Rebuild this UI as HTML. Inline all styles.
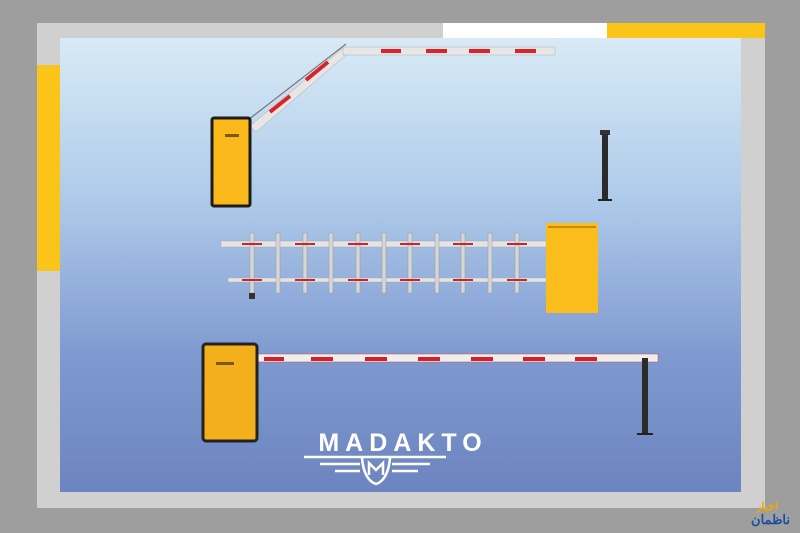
<!DOCTYPE html>
<html><head><meta charset="utf-8"><style>
body{margin:0;width:800px;height:533px;overflow:hidden;background:#9e9e9e}
svg{display:block}
</style></head><body>
<svg width="800" height="533" viewBox="0 0 800 533" xmlns="http://www.w3.org/2000/svg">
<defs>
<linearGradient id="bg" x1="0" y1="0" x2="0" y2="1">
<stop offset="0" stop-color="#d8eaf6"/>
<stop offset="0.35" stop-color="#afcbea"/>
<stop offset="0.7" stop-color="#7f9ad0"/>
<stop offset="1" stop-color="#6c84bf"/>
</linearGradient>
</defs>
<rect width="800" height="533" fill="#9e9e9e"/>
<rect x="37" y="23" width="728" height="485" fill="#d0d0d0"/>
<rect x="443" y="23" width="164" height="15" fill="#ffffff"/>
<rect x="607" y="23" width="158" height="15" fill="#fbc419"/>
<rect x="37" y="65" width="23" height="206" fill="#fbc419"/>
<rect x="60" y="38" width="681" height="454" fill="url(#bg)"/>

<g>
<line x1="248" y1="120" x2="346" y2="44" stroke="#777" stroke-width="1.2"/>
<polygon points="250,126 343,48 352,50 256,132" fill="#e6e6e6" stroke="#bbb" stroke-width="0.6"/>
<g stroke="#d9232a" stroke-width="4">
<line x1="270" y1="112" x2="290" y2="96"/>
<line x1="306" y1="80" x2="328" y2="62"/>
</g>
<rect x="343" y="47" width="212" height="8" fill="#e6e6e6" stroke="#bbb" stroke-width="0.6"/>
<g fill="#d9232a">
<rect x="381" y="49" width="20" height="4"/><rect x="426" y="49" width="21" height="4"/><rect x="469" y="49" width="21" height="4"/><rect x="515" y="49" width="21" height="4"/>
</g>
<rect x="212" y="118" width="38" height="88" rx="2" fill="#fbb81a" stroke="#1d1d1d" stroke-width="3"/>
<rect x="225" y="134" width="14" height="3" fill="#7a5a10"/>
</g>

<rect x="600" y="130" width="10" height="5" fill="#333"/>
<rect x="602" y="134" width="6" height="66" fill="#2a2a2a"/>
<rect x="598" y="199" width="14" height="2" fill="#222"/>

<g>
<rect x="221" y="241" width="325" height="6" fill="#e4e4e4" stroke="#aaa" stroke-width="0.5"/>
<rect x="228" y="278" width="318" height="4" fill="#e4e4e4" stroke="#aaa" stroke-width="0.5"/>
<g fill="#d6d6d6" stroke="#999" stroke-width="0.5">
<rect x="250" y="233" width="4" height="60"/><rect x="276" y="233" width="4" height="60"/><rect x="303" y="233" width="4" height="60"/><rect x="329" y="233" width="4" height="60"/><rect x="356" y="233" width="4" height="60"/><rect x="382" y="233" width="4" height="60"/><rect x="408" y="233" width="4" height="60"/><rect x="435" y="233" width="4" height="60"/><rect x="461" y="233" width="4" height="60"/><rect x="488" y="233" width="4" height="60"/><rect x="515" y="233" width="4" height="60"/>
</g>
<g stroke="#c8242b" stroke-width="2">
<line x1="242" y1="244" x2="262" y2="244"/><line x1="295" y1="244" x2="315" y2="244"/><line x1="348" y1="244" x2="368" y2="244"/><line x1="400" y1="244" x2="420" y2="244"/><line x1="453" y1="244" x2="473" y2="244"/><line x1="507" y1="244" x2="527" y2="244"/>
<line x1="242" y1="280" x2="262" y2="280"/><line x1="295" y1="280" x2="315" y2="280"/><line x1="348" y1="280" x2="368" y2="280"/><line x1="400" y1="280" x2="420" y2="280"/><line x1="453" y1="280" x2="473" y2="280"/><line x1="507" y1="280" x2="527" y2="280"/>
</g>
<rect x="249" y="293" width="6" height="6" fill="#333"/>
<rect x="546" y="223" width="52" height="90" fill="#fbbd1c"/>
<rect x="548" y="226" width="48" height="2" fill="#c98a10"/>
</g>

<g>
<rect x="258" y="354" width="400" height="8" fill="#eeeeee" stroke="#c44" stroke-width="0.5"/>
<g fill="#d3212a">
<rect x="264" y="357" width="20" height="4"/><rect x="311" y="357" width="22" height="4"/><rect x="365" y="357" width="22" height="4"/><rect x="418" y="357" width="22" height="4"/><rect x="471" y="357" width="22" height="4"/><rect x="523" y="357" width="22" height="4"/><rect x="575" y="357" width="22" height="4"/>
</g>
<rect x="642" y="358" width="6" height="76" fill="#2b2b2b"/>
<rect x="637" y="433" width="16" height="2" fill="#222"/>
<rect x="203" y="344" width="54" height="97" rx="3" fill="#f4b01c" stroke="#222" stroke-width="3"/>
<rect x="216" y="362" width="18" height="3" fill="#7a5a10"/>
</g>

<text x="403" y="451" text-anchor="middle" font-family="Liberation Sans, sans-serif" font-weight="bold" font-size="25" letter-spacing="6" fill="#fff">MADAKTO</text>
<g stroke="#fff" stroke-width="2.5" fill="none">
<line x1="304" y1="457" x2="446" y2="457"/>
<line x1="320" y1="464" x2="360" y2="464"/><line x1="392" y1="464" x2="430" y2="464"/>
<line x1="335" y1="471" x2="360" y2="471"/><line x1="392" y1="471" x2="418" y2="471"/>
<path d="M362 458 Q364 480 376 484 Q388 480 390 458"/>
<path d="M369 475 L369 463 L376 470 L383 463 L383 475"/>
</g>

<text x="778" y="510" text-anchor="end" font-family="Liberation Sans, sans-serif" font-weight="bold" font-size="11" fill="#f2a900">اخبار</text>
<text x="790" y="524" text-anchor="end" font-family="Liberation Sans, sans-serif" font-weight="bold" font-size="13" fill="#1d4fa1">ناظمان</text>
</svg>
</body></html>
